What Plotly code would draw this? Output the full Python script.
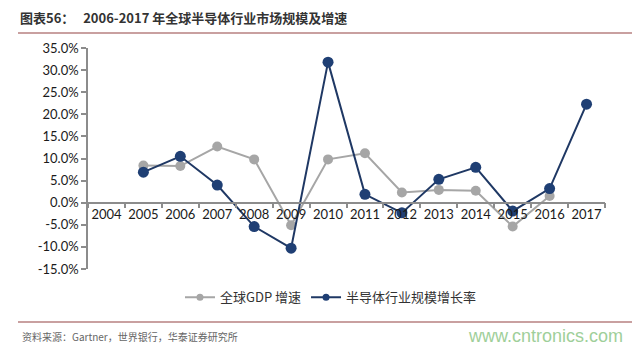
import plotly.graph_objects as go

years = ["2004", "2005", "2006", "2007", "2008", "2009", "2010", "2011",
         "2012", "2013", "2014", "2015", "2016", "2017"]
gdp_growth = [None, 8.4, 8.3, 12.7, 9.8, -5.1, 9.8, 11.2, 2.3, 2.9, 2.7, -5.4, 1.5, None]
semi_growth = [None, 6.9, 10.5, 4.0, -5.4, -10.3, 31.8, 1.9, -2.3, 5.3, 8.0, -1.9, 3.2, 22.3]
y_tickvals = [-15, -10, -5, 0, 5, 10, 15, 20, 25, 30, 35]
y_ticktext = ["-15.0%", "-10.0%", "-5.0%", "0.0%", "5.0%", "10.0%", "15.0%",
              "20.0%", "25.0%", "30.0%", "35.0%"]
series_names = ["全球GDP 增速", "半导体行业规模增长率"]

title_text = "<b>图表56：   2006-2017 年全球半导体行业市场规模及增速</b>"
source_text = "资料来源：Gartner，世界银行，华泰证券研究所"
watermark = "www.cntronics.com"

xidx = list(range(len(years)))
cjk = "Noto Sans CJK SC"
axis_font = dict(family="Lato, 'Open Sans', sans-serif", size=13, color="#1a1a1a")
colors_line = ["#a6a6a6", "#1f3864"]
colors_marker = ["#a6a6a6", "#1f3f74"]
marker_sizes = [10, 11]

fig = go.Figure()
for vals, name, lc, mc, ms in zip([gdp_growth, semi_growth], series_names,
                                  colors_line, colors_marker, marker_sizes):
    fig.add_trace(go.Scatter(
        x=xidx, y=vals, name=name, mode="lines+markers", showlegend=False,
        line=dict(color=lc, width=2), marker=dict(color=mc, size=ms),
    ))
# legend entries with small markers, as in the reference
for name, lc, mc in zip(series_names, colors_line, colors_marker):
    fig.add_trace(go.Scatter(
        x=[None], y=[None], name=name, mode="lines+markers",
        line=dict(color=lc, width=2), marker=dict(color=mc, size=7),
    ))

fig.update_layout(
    width=640, height=352,
    margin=dict(l=88, r=35, t=48, b=83),
    paper_bgcolor="white", plot_bgcolor="white",
    showlegend=True,
    legend=dict(orientation="h", x=0.47, xanchor="center", xref="paper",
                y=-0.06, yanchor="top", itemsizing="trace",
                font=dict(family=cjk, size=13, color="#333333"),
                bgcolor="rgba(0,0,0,0)", itemwidth=30),
    xaxis=dict(
        range=[-0.5, len(years) - 0.5],
        anchor="free", position=0.3,
        tickmode="array", tickvals=xidx, ticktext=years,
        ticks="", showgrid=False, zeroline=False,
        showline=True, linecolor="#8c8c8c", linewidth=1.5,
        tickfont=axis_font,
        minor=dict(tickmode="array", tickvals=[i - 0.5 for i in range(len(years) + 1)],
                   ticks="outside", ticklen=5, tickcolor="#8c8c8c", tickwidth=1.5,
                   showgrid=False),
    ),
    yaxis=dict(
        range=[-15, 35],
        tickmode="array", tickvals=y_tickvals, ticktext=y_ticktext,
        ticks="outside", ticklen=5, tickcolor="#8c8c8c", tickwidth=1.5,
        showline=True, linecolor="#8c8c8c", linewidth=1.5,
        showgrid=False, zeroline=False,
        tickfont=axis_font,
    ),
)

fig.add_annotation(text=title_text, xref="paper", yref="paper",
                   x=-88/517 + 18/517, y=1 + (48 - 17)/221, xanchor="left", yanchor="middle",
                   showarrow=False, font=dict(family=cjk, size=13, color="#333333"))
fig.add_annotation(text=source_text, xref="paper", yref="paper",
                   x=-88/517 + 20/517, y=-(336 - 269)/221, xanchor="left", yanchor="middle",
                   showarrow=False, font=dict(family=cjk, size=10, color="#666666"))
fig.add_annotation(text=watermark, xref="paper", yref="paper",
                   x=(625 - 88)/517, y=-(336 - 269)/221, xanchor="right", yanchor="middle",
                   showarrow=False, font=dict(family="Liberation Sans, Arial, sans-serif", size=18, color="#9fcf9a"))

for ypix in (33, 322):
    yp = (269 - ypix) / 221
    fig.add_shape(type="line", xref="paper", yref="paper",
                  x0=(18 - 88)/517, x1=(632 - 88)/517, y0=yp, y1=yp,
                  line=dict(color="#c9a0a0", width=2))

fig.write_html("out.html")
